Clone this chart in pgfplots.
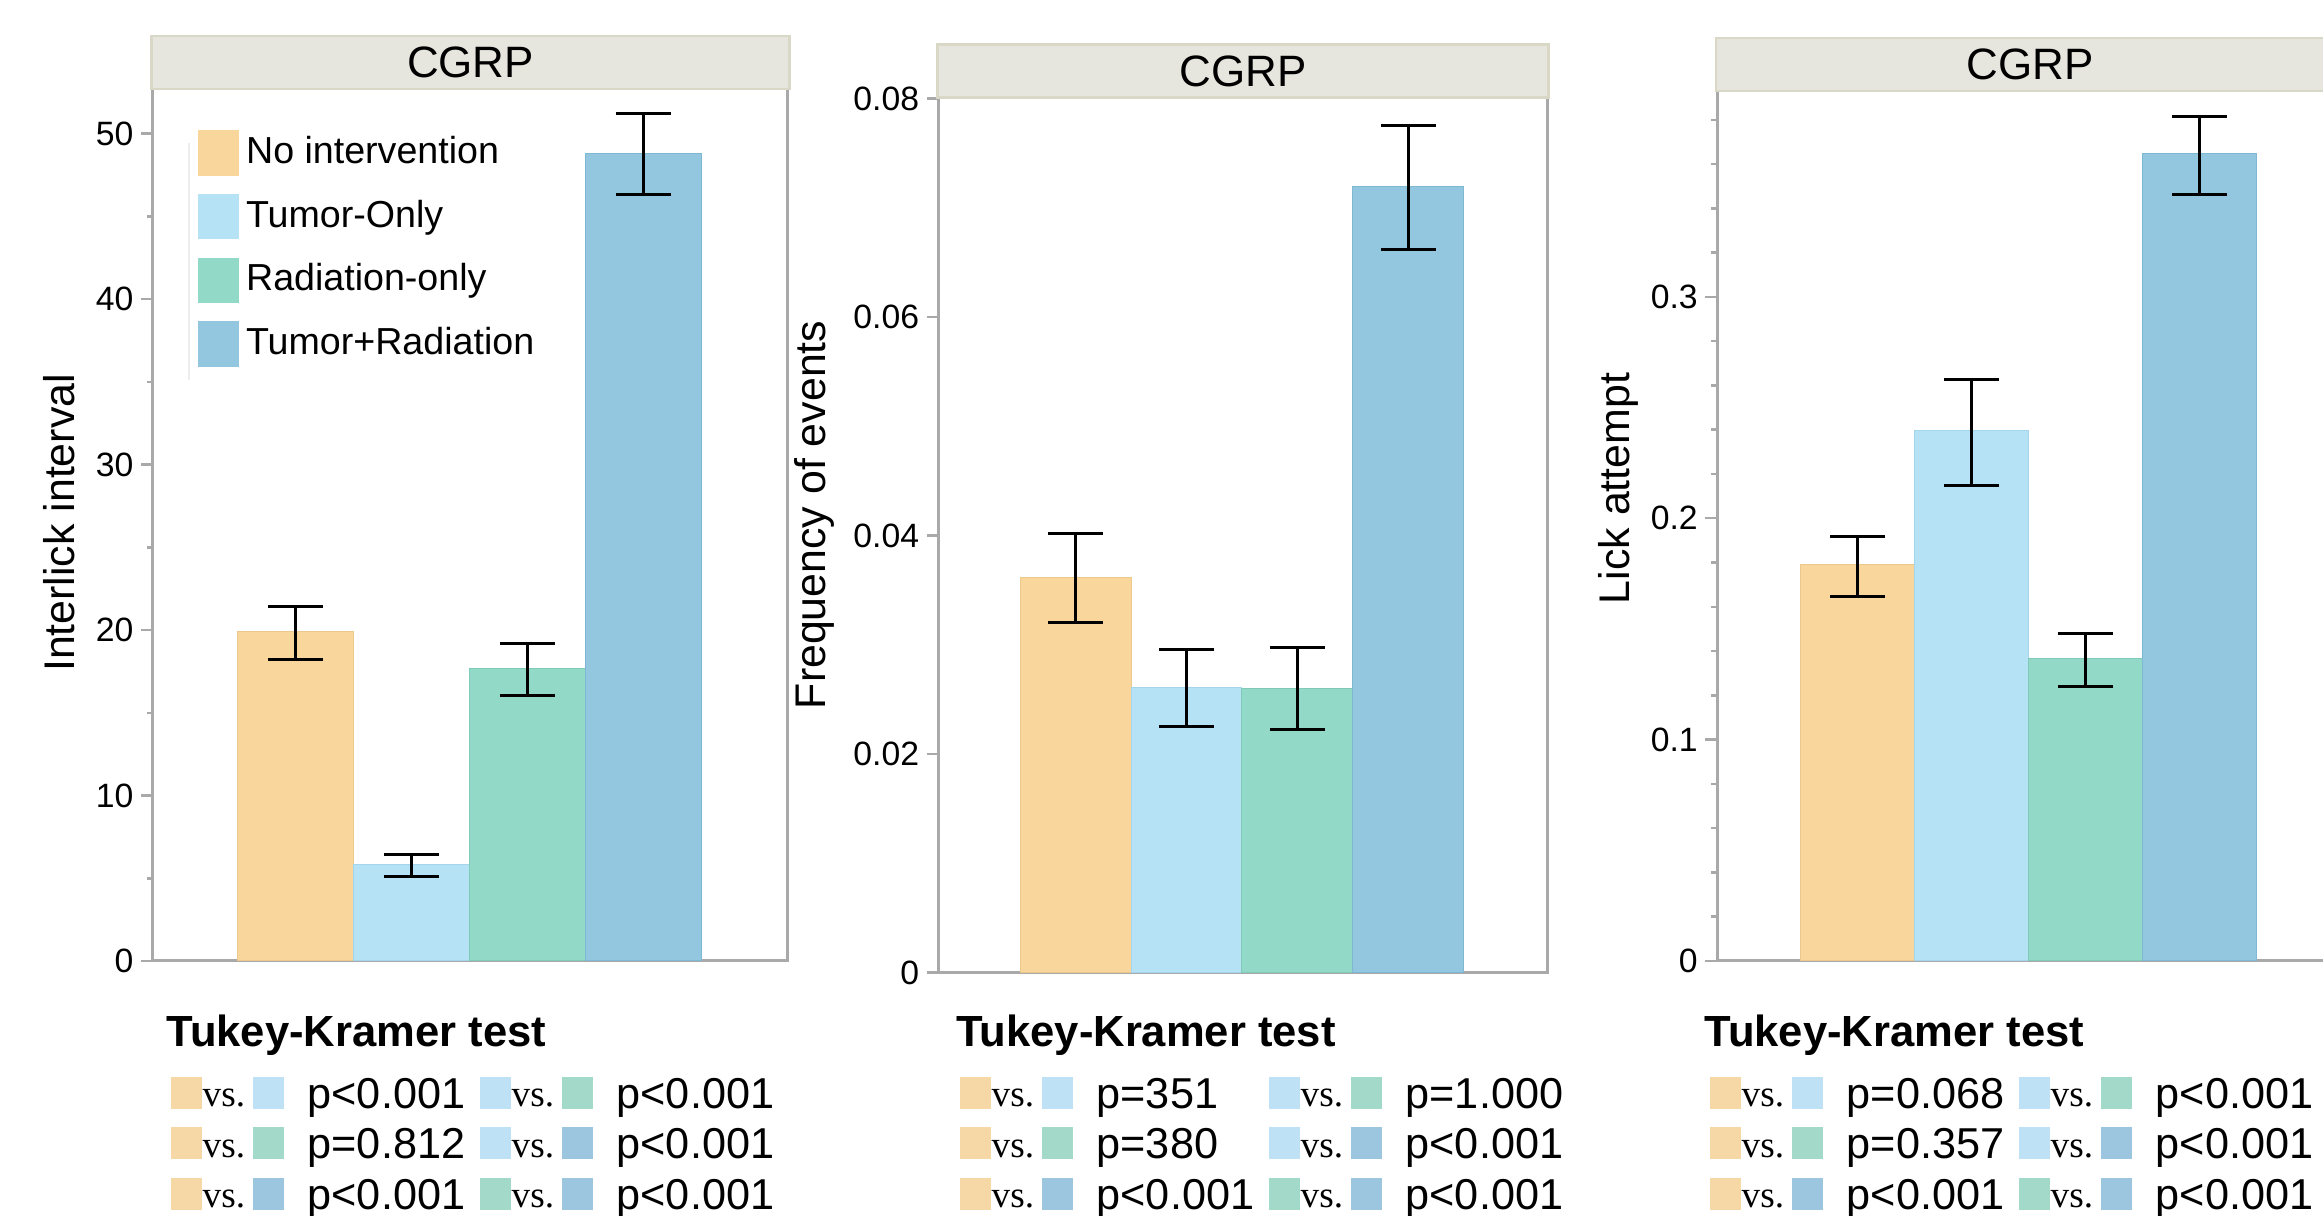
\documentclass[border=0pt]{standalone}
\usepackage{fontspec}
\setmainfont{Liberation Sans}
\newfontfamily\serifvs{Liberation Serif}
\usepackage{pgfplots}
\pgfplotsset{compat=1.18}

\definecolor{cO}{HTML}{F9D69B}
\definecolor{cLB}{HTML}{B5E2F5}
\definecolor{cG}{HTML}{92D9C7}
\definecolor{cB}{HTML}{93C6DF}
\definecolor{dO}{HTML}{EBC88C}
\definecolor{dLB}{HTML}{A3D6EC}
\definecolor{dG}{HTML}{7FCBB8}
\definecolor{dB}{HTML}{7EB8D3}
\definecolor{tO}{HTML}{F5D8A5}
\definecolor{tLB}{HTML}{BEE1F5}
\definecolor{tG}{HTML}{A3D9C8}
\definecolor{tB}{HTML}{9CC5DF}
\definecolor{stripfill}{HTML}{E6E6DE}
\definecolor{stripdraw}{HTML}{D9D8C6}
\definecolor{axgray}{HTML}{A9A9A9}

\newcommand{\pfont}{\fontsize{12.3}{14}\selectfont}
\newcommand{\vsfont}{\serifvs\fontsize{10.6}{12}\selectfont}

% one comparison: x, ytop, colour A, colour B, p text
\newcommand{\pair}[5]{%
  \begin{scope}[shift={(#1,#2)}]
    \fill[#3] (0,0) rectangle (0.31,-0.315);
    \node[anchor=base west, inner sep=0pt, font=\vsfont] at (0.31,-0.30) {vs.};
    \fill[#4] (0.82,0) rectangle (1.13,-0.315);
    \node[anchor=base west, inner sep=0pt, font=\pfont] at (1.36,-0.31) {#5};
  \end{scope}}

\newcommand{\legpatch}[1]{\addlegendimage{legend image code/.code={\fill[#1] (0cm,0cm) rectangle (0.40cm,0.44cm);}}}

\pgfplotsset{
  mypanel/.style={
    scale only axis,
    xmin=-0.233, xmax=5.25, ymin=0,
    xtick=\empty, ytick pos=left, tick align=outside,
    scaled y ticks=false,
    major tick length=0.12cm, minor tick length=0.06cm,
    every tick/.append style={axgray, line width=0.025cm},
    axis line style={axgray, line width=0.03cm},
    yticklabel style={font=\fontsize{9.6}{11}\selectfont, inner sep=0pt, xshift=-0.07cm},
    ylabel style={font=\fontsize{12.2}{14}\selectfont, anchor=base},
    title={CGRP},
    every axis title/.style={at={(0.5,1)}, anchor=south, yshift=-0.015cm, fill=stripfill,
      draw=stripdraw, line width=0.025cm, minimum height=0.53cm, inner sep=0pt,
      font=\fontsize{12.5}{14}\selectfont},
  },
  mybar/.style={ybar, bar width=1, bar shift=0pt, line width=0.01cm,
    error bars/y dir=both, error bars/y explicit,
    error bars/error bar style={black, line width=0.03cm},
    error bars/error mark options={rotate=90, black, line width=0.03cm, mark size=0.275cm}},
}

\begin{document}
\begin{tikzpicture}
\useasboundingbox (0,0) rectangle (23.23,-12.16);

% ---------- panel 1 ----------
\begin{axis}[mypanel, at={(1.53cm,-9.61cm)}, anchor=south west, width=6.35cm, height=8.72cm,
  ymax=52.7, ytick={0,10,20,30,40,50}, yticklabels={0,10,20,30,40,50},
  minor ytick={5,15,25,35,45},
  ylabel={Interlick interval},
  ylabel style={at={(axis description cs:-0.1244,0.5023)}},
  title style={minimum width=6.38cm},
  legend style={at={(axis description cs:0.0693,0.9536)}, anchor=north west,
    draw=none, fill=none, inner sep=0pt, row sep=0.045cm,
    font=\fontsize{10.7}{13}\selectfont,
    nodes={inner sep=0pt, text height=0.29cm, text depth=0.0cm},
    /tikz/every odd column/.append style={column sep=0.07cm}},
  legend cell align=left,
]
\addplot[mybar, fill=cO, draw=dO, forget plot] coordinates {(1,19.89) += (0,1.54) -= (0,1.69)};
\addplot[mybar, fill=cLB, draw=dLB, forget plot] coordinates {(2,5.82) += (0,0.62) -= (0,0.69)};
\addplot[mybar, fill=cG, draw=dG, forget plot] coordinates {(3,17.69) += (0,1.51) -= (0,1.65)};
\addplot[mybar, fill=cB, draw=dB, forget plot] coordinates {(4,48.80) += (0,2.43) -= (0,2.50)};
\draw[line width=0.02cm, black!7] (axis description cs:0.0567,0.938) -- (axis description cs:0.0567,0.666);
\legpatch{cO}  \addlegendentry{\raisebox{0.26cm}{No intervention}}
\legpatch{cLB} \addlegendentry{\raisebox{0.26cm}{Tumor-Only}}
\legpatch{cG}  \addlegendentry{\raisebox{0.26cm}{Radiation-only}}
\legpatch{cB}  \addlegendentry{\raisebox{0.26cm}{Tumor+Radiation}}
\end{axis}

% ---------- panel 2 ----------
\begin{axis}[mypanel, at={(9.388cm,-9.725cm)}, anchor=south west, width=6.082cm, height=8.75cm,
  ymax=0.0801, ytick={0,0.02,0.04,0.06,0.08}, yticklabels={0,0.02,0.04,0.06,0.08},
  ylabel={Frequency of events},
  ylabel style={at={(axis description cs:-0.1855,0.5229)}},
  title style={minimum width=6.11cm},
]
\addplot[mybar, fill=cO, draw=dO] coordinates {(1,0.03620) += (0,0.00398) -= (0,0.00420)};
\addplot[mybar, fill=cLB, draw=dLB] coordinates {(2,0.02610) += (0,0.00345) -= (0,0.00356)};
\addplot[mybar, fill=cG, draw=dG] coordinates {(3,0.02604) += (0,0.00374) -= (0,0.00379)};
\addplot[mybar, fill=cB, draw=dB] coordinates {(4,0.07194) += (0,0.00555) -= (0,0.00572)};
\end{axis}

% ---------- panel 3 ----------
\begin{axis}[mypanel, at={(17.174cm,-9.61cm)}, anchor=south west, width=6.249cm, height=8.70cm,
  ymax=0.393, ytick={0,0.1,0.2,0.3}, yticklabels={0,0.1,0.2,0.3},
  minor ytick={0.02,0.04,0.06,0.08,0.12,0.14,0.16,0.18,0.22,0.24,0.26,0.28,0.32,0.34,0.36,0.38},
  ylabel={Lick attempt},
  ylabel style={at={(axis description cs:-0.1399,0.5431)}},
  title style={minimum width=6.28cm},
]
\addplot[mybar, fill=cO, draw=dO] coordinates {(1,0.1790) += (0,0.0129) -= (0,0.0144)};
\addplot[mybar, fill=cLB, draw=dLB] coordinates {(2,0.2395) += (0,0.0233) -= (0,0.0245)};
\addplot[mybar, fill=cG, draw=dG] coordinates {(3,0.1366) += (0,0.0115) -= (0,0.0124)};
\addplot[mybar, fill=cB, draw=dB] coordinates {(4,0.3648) += (0,0.0168) -= (0,0.0187)};
\end{axis}

% ---------- Tukey-Kramer tables ----------
\foreach \xo/\tx/\pa/\pb/\pc/\pd/\pe/\pf in {
    1.71/1.66/{p<0.001}/{p=0.812}/{p<0.001}/{p<0.001}/{p<0.001}/{p<0.001},
    9.60/9.556/{p=351}/{p=380}/{p<0.001}/{p=1.000}/{p<0.001}/{p<0.001},
    17.10/17.04/{p=0.068}/{p=0.357}/{p<0.001}/{p<0.001}/{p<0.001}/{p<0.001}} {
  \node[anchor=base west, inner sep=0pt, font=\bfseries\fontsize{12.4}{14}\selectfont]
    at (\tx,-10.467) {Tukey-Kramer test};
  \pair{\xo}{-10.77}{tO}{tLB}{\pa}
  \pair{\xo}{-11.275}{tO}{tG}{\pb}
  \pair{\xo}{-11.78}{tO}{tB}{\pc}
  \pair{\xo+3.09}{-10.77}{tLB}{tG}{\pd}
  \pair{\xo+3.09}{-11.275}{tLB}{tB}{\pe}
  \pair{\xo+3.09}{-11.78}{tG}{tB}{\pf}
}
\end{tikzpicture}
\end{document}
